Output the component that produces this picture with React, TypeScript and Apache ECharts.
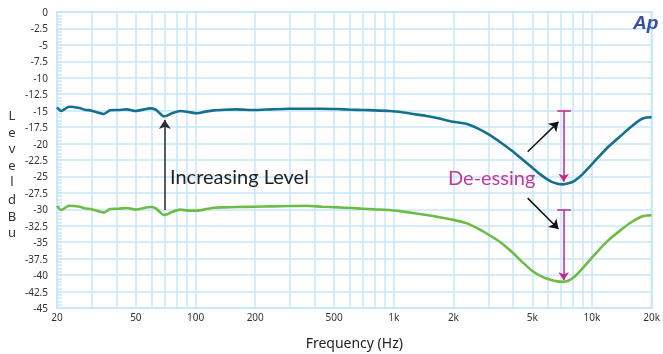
import React, { useEffect, useRef } from "react";
import * as echarts from "echarts";

const freqs = [20, 21, 23, 26, 27.5, 30, 34.5, 37, 41, 45, 50, 55, 59, 63, 66, 69, 72, 76, 84, 92, 102, 112, 124, 140, 160, 200, 240, 296, 360, 435, 520, 612, 700, 800, 950, 1084, 1250, 1460, 1700, 2000, 2320, 2650, 3030, 3450, 3950, 4450, 4970, 5550, 6230, 6700, 7130, 7600, 8130, 9000, 10600, 12000, 13900, 15700, 17500, 18800, 20000];

const blueLevels = [-14.5, -15.05, -14.4, -14.6, -14.85, -15.0, -15.5, -14.95, -14.9, -14.8, -15.05, -14.8, -14.65, -14.85, -15.4, -15.85, -15.75, -15.4, -15.05, -15.2, -15.4, -15.15, -14.95, -14.85, -14.8, -14.9, -14.8, -14.7, -14.7, -14.7, -14.75, -14.85, -14.9, -14.95, -15.05, -15.2, -15.5, -15.8, -16.2, -16.7, -17.0, -17.7, -18.65, -19.8, -21.1, -22.4, -23.6, -24.8, -25.8, -26.1, -26.2, -26.05, -25.7, -24.6, -22.3, -20.6, -18.9, -17.5, -16.4, -16.05, -16.0];

const greenLevels = [-29.5, -30.1, -29.45, -29.6, -29.85, -30.0, -30.5, -29.95, -29.9, -29.8, -30.05, -29.8, -29.65, -29.85, -30.4, -30.85, -30.75, -30.4, -30.05, -30.2, -30.2, -30.0, -29.75, -29.7, -29.65, -29.6, -29.55, -29.5, -29.45, -29.6, -29.7, -29.8, -29.9, -30.0, -30.1, -30.3, -30.55, -30.85, -31.2, -31.6, -32.1, -32.9, -33.9, -35.0, -36.5, -38.0, -39.3, -40.2, -40.75, -40.95, -41.0, -40.85, -40.3, -38.9, -36.5, -34.8, -33.2, -32.0, -31.2, -30.95, -30.9];

const xGridValues = [20, 30, 40, 50, 60, 70, 80, 90, 100, 200, 300, 400, 500, 600, 700, 800, 900, 1000, 2000, 3000, 4000, 5000, 6000, 7000, 8000, 9000, 10000, 20000];
const xLabelValues = [20, 50, 100, 200, 500, 1000, 2000, 5000, 10000, 20000];
const yNameLetters = ["L", "e", "v", "e", "l", "d", "B", "u"];

const GRID = "#c9e7f7";
const MAGENTA = "#c2278e";
const DARK = "#2b2b38";

export default function App() {
  const ref = useRef<HTMLDivElement>(null);
  useEffect(() => {
    const chart = echarts.init(ref.current!, null, { renderer: "svg" });
    const blue = freqs.map((f, i) => [f, blueLevels[i]]);
    const green = freqs.map((f, i) => [f, greenLevels[i]]);
    const arrowLine = (a: number[], b: number[], color: string, size: number) => [
      { coord: a, lineStyle: { color, width: 1.5, type: "solid" }, symbol: "none", symbolSize: 0 },
      { coord: b, symbol: "arrow", symbolSize: size },
    ];
    const plainLine = (a: number[], b: number[], color: string) => [
      { coord: a, lineStyle: { color, width: 1.5, type: "solid" }, symbol: "none" },
      { coord: b, symbol: "none" },
    ];
    const letterY = [115, 131.5, 148, 164.5, 181, 199, 215.5, 232];
    const letterGraphics = yNameLetters.map((ch, i) => ({
      type: "text",
      z: 100,
      x: 12,
      y: letterY[i],
      style: { text: ch, fontSize: 13, lineHeight: 13, fill: "#333", align: "center", verticalAlign: "middle", fontFamily: "Noto Sans" },
    }));
    chart.setOption({
      animation: false,
      textStyle: { fontFamily: "Noto Sans" },
      grid: { left: 57, right: 1, top: 12, bottom: 37, show: true, borderColor: GRID, borderWidth: 2 },
      xAxis: {
        type: "log",
        logBase: 10,
        min: 20,
        max: 20000,
        name: "Frequency (Hz)",
        nameLocation: "middle",
        nameGap: 27,
        nameTextStyle: { fontSize: 14, color: "#222", fontFamily: "Noto Sans" },
        axisLine: { show: false },
        axisTick: { show: false, customValues: xGridValues },
        axisLabel: {
          customValues: xLabelValues,
          fontSize: 10,
          color: "#333",
          margin: 4,
          formatter: (v: number) => (v >= 1000 ? v / 1000 + "k" : String(v)),
        },
        splitLine: { show: true, lineStyle: { color: GRID, width: 1.5 } },
      },
      yAxis: {
        type: "value",
        min: -45,
        max: 0,
        interval: 2.5,
        axisLine: { show: false },
        axisTick: { show: true, inside: true, length: 5, lineStyle: { color: GRID, width: 1.5 } },
        minorTick: { show: true, splitNumber: 5, length: 5, lineStyle: { color: GRID, width: 1.5 } },
        axisLabel: { fontSize: 10, color: "#333", margin: 9 },
        splitLine: { show: true, lineStyle: { color: GRID, width: 1.5 } },
      },
      series: [
        {
          type: "line",
          data: blue,
          showSymbol: false,
          smooth: 0.2,
          lineStyle: { color: "#14708f", width: 2.6 },
          silent: true,
          z: 3,
          markLine: {
            silent: true,
            animation: false,
            label: { show: false },
            emphasis: { disabled: true },
            data: [
              arrowLine([70, -30.1], [70, -16.4], DARK, 9),
              arrowLine([7200, -15], [7200, -25.8], MAGENTA, 8),
              arrowLine([7200, -30.1], [7200, -40.8], MAGENTA, 8),
              plainLine([6680, -15], [7830, -15], MAGENTA),
              plainLine([6680, -30.1], [7830, -30.1], MAGENTA),
              arrowLine([4740, -21.25], [6780, -16.7], "#111", 9),
              arrowLine([4740, -28.3], [6780, -33.0], "#111", 9),
            ],
          },
        },
        {
          type: "line",
          data: green,
          showSymbol: false,
          smooth: 0.2,
          lineStyle: { color: "#6cbd45", width: 2.6 },
          silent: true,
          z: 3,
        },
      ],
      graphic: [
        { type: "text", z: 100, left: 170, top: 166, style: { text: "Increasing Level", fontSize: 20, fill: "#222", fontFamily: "Lato" } },
        { type: "text", z: 100, left: 448, top: 167, style: { text: "De-essing", fontSize: 20, fill: "#c0399a", fontFamily: "Lato" } },
        { type: "text", z: 100, left: 633, top: 13, style: { text: "Ap", fontSize: 19, fill: "#3b4ea3", fontStyle: "italic", fontWeight: "bold", fontFamily: "Liberation Sans" } },
        ...letterGraphics,
      ],
    });
    return () => chart.dispose();
  }, []);
  return <div ref={ref} style={{ position: "fixed", left: 0, top: 0, width: 663, height: 354 }} />;
}
